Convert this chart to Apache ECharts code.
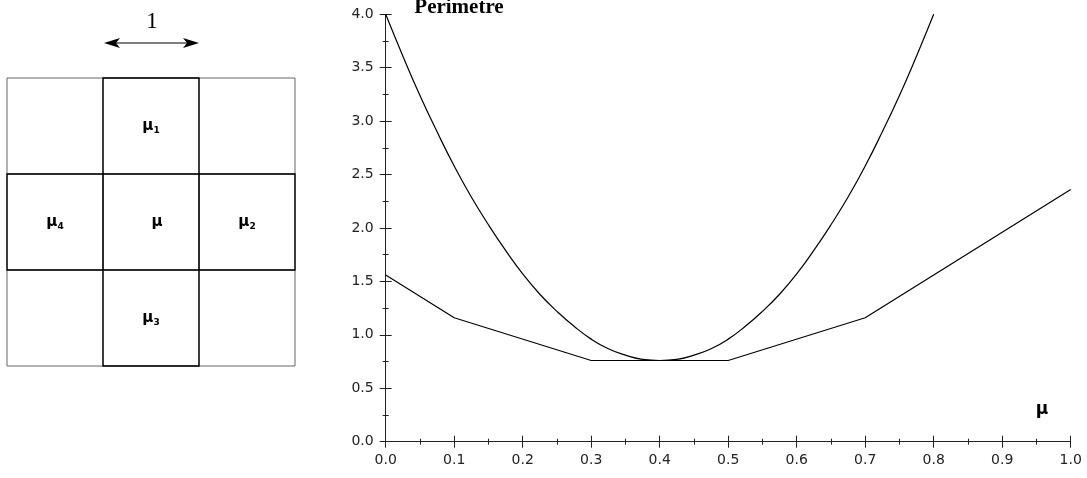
<!DOCTYPE html>
<html>
<head>
<meta charset="utf-8">
<script src="https://cdn.jsdelivr.net/npm/echarts@6/dist/echarts.min.js"></script>
<style>
  html, body { margin: 0; padding: 0; background: #fff; }
  #chart { width: 1087px; height: 478px; }
</style>
</head>
<body>
<div id="chart"></div>
<script>
// values
const muSmooth = [0, 0.025, 0.05, 0.075, 0.1, 0.125, 0.15, 0.175, 0.2, 0.225, 0.25, 0.275, 0.3, 0.325, 0.35, 0.375, 0.4,
  0.425, 0.45, 0.475, 0.5, 0.525, 0.55, 0.575, 0.6, 0.625, 0.65, 0.675, 0.7, 0.725, 0.75, 0.775, 0.8]
const perimSmooth = [4.0, 3.61, 3.24, 2.90, 2.58, 2.29, 2.03, 1.79, 1.57, 1.38, 1.22, 1.08, 0.96, 0.87, 0.81, 0.77, 0.76,
  0.77, 0.81, 0.87, 0.96, 1.08, 1.22, 1.38, 1.57, 1.79, 2.03, 2.29, 2.58, 2.90, 3.24, 3.61, 4.0]
const muPoly = [0, 0.1, 0.3, 0.5, 0.7, 1.0]
const perimPoly = [1.56, 1.16, 0.76, 0.76, 1.16, 2.36]

const axisColor = '#222'

function pairs (xs, ys) {
  return xs.map((x, i) => [x, ys[i]])
}

// left diagram: 3x3 cells
const cell = 96
const gx = 7
const gy = 78
const diagram = []
for (let i = 0; i <= 3; i++) {
  diagram.push({ type: 'line', shape: { x1: gx + i * cell, y1: gy, x2: gx + i * cell, y2: gy + 3 * cell }, style: { stroke: '#666', lineWidth: 1 } })
  diagram.push({ type: 'line', shape: { x1: gx, y1: gy + i * cell, x2: gx + 3 * cell, y2: gy + i * cell }, style: { stroke: '#666', lineWidth: 1 } })
}
// cross outline drawn darker
const c = cell
diagram.push({
  type: 'polygon',
  shape: {
    points: [
      [gx + c, gy], [gx + 2 * c, gy], [gx + 2 * c, gy + c], [gx + 3 * c, gy + c],
      [gx + 3 * c, gy + 2 * c], [gx + 2 * c, gy + 2 * c], [gx + 2 * c, gy + 3 * c], [gx + c, gy + 3 * c],
      [gx + c, gy + 2 * c], [gx, gy + 2 * c], [gx, gy + c], [gx + c, gy + c]
    ]
  },
  style: { fill: null, stroke: '#000', lineWidth: 1.3 }
})
diagram.push({ type: 'rect', shape: { x: gx + c, y: gy + c, width: c, height: c }, style: { fill: null, stroke: '#000', lineWidth: 1.5 } })

const cellLabels = [
  { sub: '1', x: gx + 1.5 * c, y: gy + 0.5 * c },
  { sub: '4', x: gx + 0.5 * c, y: gy + 1.5 * c },
  { sub: '', x: gx + 1.5 * c + 6, y: gy + 1.5 * c },
  { sub: '2', x: gx + 2.5 * c, y: gy + 1.5 * c },
  { sub: '3', x: gx + 1.5 * c, y: gy + 2.5 * c }
]
cellLabels.forEach(l => {
  diagram.push({
    type: 'text',
    x: l.x,
    y: l.y,
    style: {
      text: l.sub ? '{m|μ}{s|' + l.sub + '}' : '{m|μ}',
      rich: {
        m: { fontFamily: 'DejaVu Sans', fontWeight: 'bold', fontSize: 15, fill: '#000' },
        s: { fontFamily: 'DejaVu Sans', fontWeight: 'bold', fontSize: 9, fill: '#000', padding: [9, 0, 0, 0] }
      },
      align: 'center',
      verticalAlign: 'middle'
    }
  })
})

// the "1" arrow above the middle column
diagram.push({ type: 'line', shape: { x1: 110, y1: 43, x2: 192, y2: 43 }, style: { stroke: '#000', lineWidth: 1 } })
diagram.push({ type: 'polygon', shape: { points: [[104, 43], [120, 38], [116, 43], [120, 48]] }, style: { fill: '#000' } })
diagram.push({ type: 'polygon', shape: { points: [[199, 43], [183, 38], [187, 43], [183, 48]] }, style: { fill: '#000' } })
diagram.push({ type: 'text', x: 152, y: 22, style: { text: '1', fontFamily: 'Liberation Serif', fontSize: 23, fill: '#000', align: 'center', verticalAlign: 'middle' } })

// chart titles
diagram.push({ type: 'text', x: 459, y: 8, style: { text: 'Perimetre', fontFamily: 'Liberation Serif', fontWeight: 'bold', fontSize: 21, fill: '#000', align: 'center', verticalAlign: 'middle' } })
diagram.push({ type: 'text', x: 1042, y: 410, style: { text: 'μ', fontFamily: 'DejaVu Sans', fontWeight: 'bold', fontSize: 17, fill: '#000', align: 'center', verticalAlign: 'middle' } })

const chart = echarts.init(document.getElementById('chart'))
const tickStyle = { color: axisColor, width: 1 }
const labels = {
  margin: 12,
  color: '#222',
  fontFamily: 'DejaVu Sans',
  fontSize: 14,
  formatter: v => v.toFixed(1)
}
const xBase = {
  type: 'value', min: 0, max: 1, interval: 0.1,
  axisLine: { lineStyle: { color: axisColor, width: 1 } },
  splitLine: { show: false }
}
const yBase = {
  type: 'value', min: 0, max: 4, interval: 0.5,
  axisLine: { lineStyle: { color: axisColor, width: 1 } },
  splitLine: { show: false }
}
chart.setOption({
  animation: false,
  grid: { left: 385.7, right: 16.3, top: 14.3, bottom: 36.3 },
  xAxis: [
    Object.assign({}, xBase, {
      axisTick: { show: true, length: 6, lineStyle: tickStyle },
      minorTick: { show: true, splitNumber: 2, length: 3, lineStyle: tickStyle },
      axisLabel: labels
    }),
    Object.assign({}, xBase, {
      position: 'bottom',
      axisLine: { show: false },
      axisTick: { show: true, inside: true, length: 6, lineStyle: tickStyle },
      minorTick: { show: true, splitNumber: 2, length: 3, lineStyle: tickStyle },
      axisLabel: { show: false }
    })
  ],
  yAxis: [
    Object.assign({}, yBase, {
      axisTick: { show: true, length: 6, lineStyle: tickStyle },
      minorTick: { show: true, splitNumber: 2, length: 3, lineStyle: tickStyle },
      axisLabel: labels
    }),
    Object.assign({}, yBase, {
      position: 'left',
      axisLine: { show: false },
      axisTick: { show: true, inside: true, length: 6, lineStyle: tickStyle },
      minorTick: { show: true, splitNumber: 2, length: 3, lineStyle: tickStyle },
      axisLabel: { show: false }
    })
  ],
  series: [
    {
      type: 'line',
      data: pairs(muSmooth, perimSmooth),
      smooth: 0.5,
      showSymbol: false,
      lineStyle: { color: '#000', width: 1.2 }
    },
    {
      type: 'line',
      data: pairs(muPoly, perimPoly),
      showSymbol: false,
      lineStyle: { color: '#000', width: 1.2 }
    }
  ],
  graphic: diagram
})
</script>
</body>
</html>
